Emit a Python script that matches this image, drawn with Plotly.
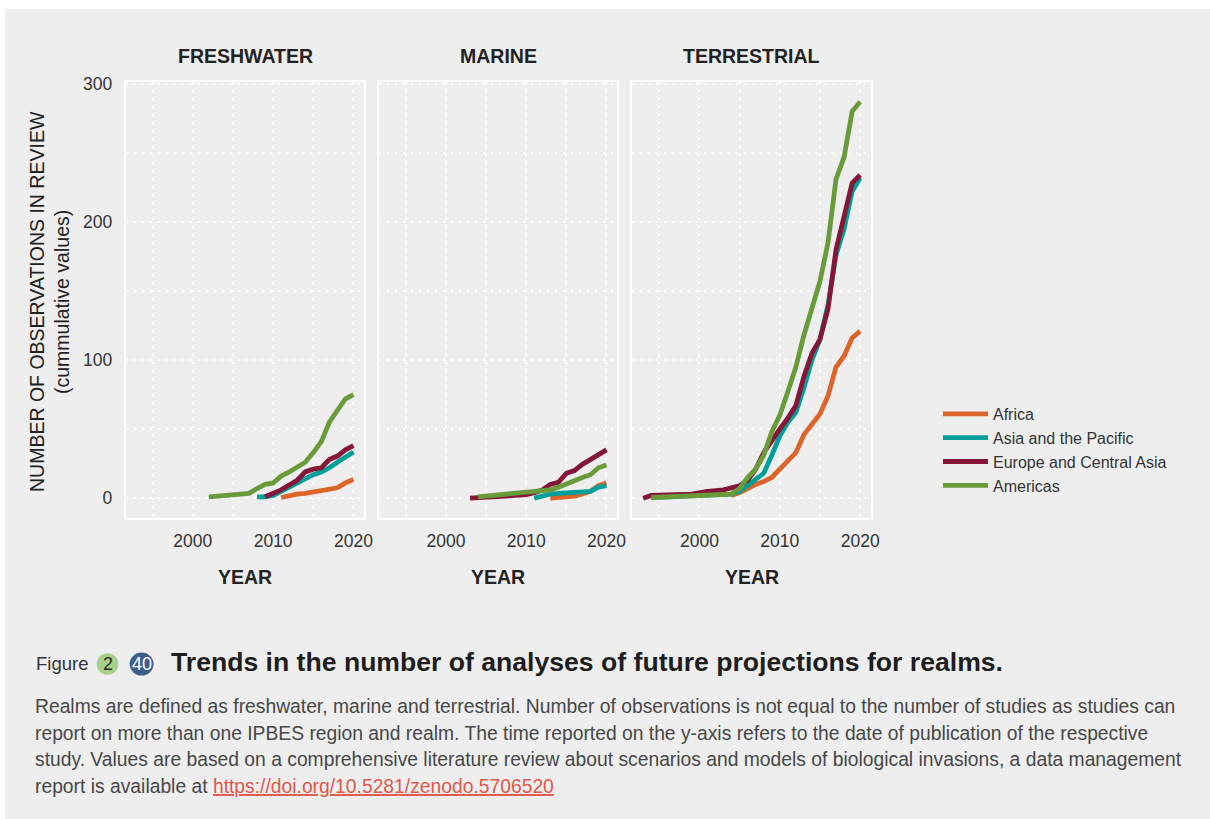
import plotly.graph_objects as go

W, H = 1210, 819

# ---------------- data ----------------
realms = ["FRESHWATER", "MARINE", "TERRESTRIAL"]
regions = ["Africa", "Asia and the Pacific", "Europe and Central Asia", "Americas"]
colors = ["#db652b", "#00a099", "#861638", "#6a9b3a"]

# FRESHWATER
fw_africa_x = [2011, 2012, 2013, 2014, 2015, 2016, 2017, 2018, 2019, 2020]
fw_africa_y = [0.5, 2, 3, 3.5, 4.5, 5.5, 6.5, 7.5, 11, 13.5]
fw_asia_x = [2008, 2009, 2010, 2011, 2012, 2013, 2014, 2015, 2016, 2017, 2018, 2019, 2020]
fw_asia_y = [1, 1, 2, 5, 8, 11, 14, 17, 19, 22, 26, 30, 33.5]
fw_europe_x = [2009, 2010, 2011, 2012, 2013, 2014, 2015, 2016, 2017, 2018, 2019, 2020]
fw_europe_y = [1, 3.5, 6, 9.5, 13, 19, 21, 22, 28, 30.5, 35, 38]
fw_americas_x = [2002, 2007, 2008, 2009, 2010, 2011, 2012, 2013, 2014, 2015, 2016, 2017, 2018, 2019, 2020]
fw_americas_y = [1, 3.5, 7, 10, 11, 16, 19, 23, 26, 33, 41, 55, 64, 72, 75]

# MARINE
ma_africa_x = [2013, 2014, 2015, 2016, 2017, 2018, 2019, 2020]
ma_africa_y = [0, 0.5, 1, 1.5, 3, 5, 9, 11]
ma_asia_x = [2011, 2012, 2013, 2014, 2015, 2016, 2017, 2018, 2019, 2020]
ma_asia_y = [0, 1.5, 3, 3.5, 4, 4.2, 4.5, 5, 8, 9]
ma_europe_x = [2003, 2010, 2011, 2012, 2013, 2014, 2015, 2016, 2017, 2018, 2019, 2020]
ma_europe_y = [0, 2.5, 4, 6, 10, 11.5, 18, 20, 24.5, 28, 32.5, 35]
ma_americas_x = [2004, 2013, 2014, 2015, 2016, 2017, 2018, 2019, 2020]
ma_americas_y = [1, 6, 8, 10.5, 13, 15, 17, 22, 24]

# TERRESTRIAL
te_africa_x = [2004, 2005, 2006, 2007, 2008, 2009, 2010, 2011, 2012, 2013, 2014, 2015, 2016, 2017, 2018, 2019, 2020]
te_africa_y = [2, 4, 7, 10, 12, 15, 21, 27, 33, 46, 54, 61, 74, 95, 103, 116, 121]
te_asia_x = [1994, 2000, 2004, 2005, 2006, 2007, 2008, 2009, 2010, 2011, 2012, 2013, 2014, 2015, 2016, 2017, 2018, 2019, 2020]
te_asia_y = [0.5, 1.5, 3, 5, 9, 13, 18, 31, 45, 55, 62, 80, 100, 115, 140, 176, 195, 222, 232]
te_europe_x = [1993, 1994, 1999, 2001, 2003, 2005, 2006, 2007, 2008, 2009, 2010, 2011, 2012, 2013, 2014, 2015, 2016, 2017, 2018, 2019, 2020]
te_europe_y = [0, 2, 3, 5, 6, 9, 13, 21, 33, 42, 50, 58, 67, 88, 105, 115, 137, 180, 203, 228, 234]
te_americas_x = [1994, 2000, 2004, 2005, 2006, 2007, 2008, 2009, 2010, 2011, 2012, 2013, 2014, 2015, 2016, 2017, 2018, 2019, 2020]
te_americas_y = [0.5, 1.5, 3, 7, 15, 21, 31, 48, 60, 77, 95, 118, 137, 157, 185, 231, 247, 280, 287]

x_ticks = [2000, 2010, 2020]
x_minor = [1995, 2005, 2015]
y_ticks = [0, 100, 200, 300]
y_minor = [50, 150, 250]

series = [
    [(fw_africa_x, fw_africa_y), (fw_asia_x, fw_asia_y), (fw_europe_x, fw_europe_y), (fw_americas_x, fw_americas_y)],
    [(ma_africa_x, ma_africa_y), (ma_asia_x, ma_asia_y), (ma_europe_x, ma_europe_y), (ma_americas_x, ma_americas_y)],
    [(te_africa_x, te_africa_y), (te_asia_x, te_asia_y), (te_europe_x, te_europe_y), (te_americas_x, te_americas_y)],
]

FONT = "Liberation Sans, Arial, sans-serif"
BG = "#eeeeee"


def px(x):
    return x / W


def py(y):
    return 1 - y / H


fig = go.Figure()

for p, realm_series in enumerate(series):
    suffix = "" if p == 0 else str(p + 1)
    for r, (xs, ys) in enumerate(realm_series):
        fig.add_trace(go.Scatter(
            x=xs, y=ys, mode="lines",
            line=dict(color=colors[r], width=4.8),
            name=regions[r], legendgroup=regions[r],
            showlegend=(p == 0),
            xaxis="x" + suffix, yaxis="y" + suffix,
            hoverinfo="skip",
        ))

x_domains = [(125.7, 364.3), (379.0, 617.3), (632.3, 871.0)]
y_domain = [py(518), py(82)]
grid = dict(showgrid=True, gridcolor="white", gridwidth=2, griddash="2px,6px")

layout = dict(
    width=W, height=H, autosize=False,
    margin=dict(l=0, r=0, t=0, b=0, pad=0, autoexpand=False),
    paper_bgcolor="white",
    plot_bgcolor="rgba(0,0,0,0)",
    font=dict(family=FONT, color="#333333"),
    showlegend=True,
    legend=dict(
        x=px(938), y=py(397), xanchor="left", yanchor="top",
        bgcolor="rgba(0,0,0,0)", font=dict(size=16, color="#333333", family=FONT),
        itemwidth=45, tracegroupgap=1, traceorder="normal",
    ),
)

for p in range(3):
    suffix = "" if p == 0 else str(p + 1)
    layout["xaxis" + suffix] = dict(
        domain=[px(x_domains[p][0]), px(x_domains[p][1])],
        anchor="y" + suffix,
        range=[1991.65, 2021.35],
        tickmode="array", tickvals=x_ticks, ticktext=[str(t) for t in x_ticks],
        ticks="", tickfont=dict(size=17.5, color="#333333"),
        zeroline=False, showline=True, linecolor="white", linewidth=2, mirror=True,
        minor=dict(tickvals=x_minor, **grid),
        ticklabelstandoff=6, automargin=False,
        **grid,
    )
    layout["yaxis" + suffix] = dict(
        domain=y_domain,
        anchor="x" + suffix,
        range=[-14.35, 301.35],
        tickmode="array", tickvals=y_ticks, ticktext=[str(t) for t in y_ticks],
        showticklabels=(p == 0),
        ticks="", tickfont=dict(size=17.5, color="#333333"),
        zeroline=False, showline=True, linecolor="white", linewidth=2, mirror=True,
        minor=dict(tickvals=y_minor, **grid),
        ticklabelstandoff=8, automargin=False,
        **grid,
    )

fig.update_layout(**layout)

# gray background panel
fig.add_shape(type="rect", xref="paper", yref="paper",
              x0=px(5), x1=1, y0=0, y1=py(9),
              fillcolor=BG, line=dict(width=0), layer="below")

annotations = []
# panel titles and x titles
for p in range(3):
    cx = (x_domains[p][0] + x_domains[p][1]) / 2
    annotations.append(dict(x=px(cx), y=py(56.5), xref="paper", yref="paper",
                            text="<b>" + realms[p] + "</b>", showarrow=False,
                            font=dict(size=19.5, color="#222222", family=FONT),
                            xanchor="center", yanchor="middle"))
    annotations.append(dict(x=px(cx), y=py(577), xref="paper", yref="paper",
                            text="<b>YEAR</b>", showarrow=False,
                            font=dict(size=19.5, color="#222222", family=FONT),
                            xanchor="center", yanchor="middle"))

# y title
annotations.append(dict(x=px(37), y=py(302), xref="paper", yref="paper",
                        text="NUMBER OF OBSERVATIONS IN REVIEW", textangle=-90,
                        showarrow=False, font=dict(size=19.5, color="#222222", family=FONT),
                        xanchor="center", yanchor="middle"))
annotations.append(dict(x=px(62), y=py(302), xref="paper", yref="paper",
                        text="(cummulative values)", textangle=-90,
                        showarrow=False, font=dict(size=19.5, color="#222222", family=FONT),
                        xanchor="center", yanchor="middle"))

# caption
annotations.append(dict(x=px(34), y=py(663), xref="paper", yref="paper",
                        text="Figure", showarrow=False,
                        font=dict(size=18.5, color="#333333", family=FONT),
                        xanchor="left", yanchor="middle"))
fig.add_shape(type="circle", xref="paper", yref="paper",
              x0=px(96.7), x1=px(118.3), y0=py(674.8), y1=py(653.2),
              fillcolor="#a9d18e", line=dict(width=0))
fig.add_shape(type="circle", xref="paper", yref="paper",
              x0=px(129.6), x1=px(153.6), y0=py(675.6), y1=py(652.6),
              fillcolor="#3f5e8d", line=dict(width=0))
annotations.append(dict(x=px(107.5), y=py(664), xref="paper", yref="paper",
                        text="2", showarrow=False,
                        font=dict(size=18, color="#2a2a2a", family=FONT),
                        xanchor="center", yanchor="middle"))
annotations.append(dict(x=px(141.6), y=py(664), xref="paper", yref="paper",
                        text="40", showarrow=False,
                        font=dict(size=18, color="white", family=FONT),
                        xanchor="center", yanchor="middle"))
annotations.append(dict(x=px(169), y=py(662), xref="paper", yref="paper",
                        text="<b>Trends in the number of analyses of future projections for realms.</b>",
                        showarrow=False, font=dict(size=26.6, color="#1e1e1e", family=FONT),
                        xanchor="left", yanchor="middle"))

body_lines = [
    "Realms are defined as freshwater, marine and terrestrial. Number of observations is not equal to the number of studies as studies can",
    "report on more than one IPBES region and realm. The time reported on the y-axis refers to the date of publication of the respective",
    "study. Values are based on a comprehensive literature review about scenarios and models of biological invasions, a data management",
    "report is available at <span style='color:#e0584a;text-decoration:underline'>https://doi.org/10.5281/zenodo.5706520</span>",
]
body_y = [706, 733, 759.5, 786]
for t, yy in zip(body_lines, body_y):
    annotations.append(dict(x=px(33), y=py(yy), xref="paper", yref="paper",
                            text=t, showarrow=False,
                            font=dict(size=19.3, color="#474747", family=FONT),
                            xanchor="left", yanchor="middle"))

fig.update_layout(annotations=annotations)

post = "document.body.style.margin='0';document.body.style.padding='0';"
fig.write_html("out.html",
               config={"responsive": False, "displayModeBar": False},
               post_script=post)
